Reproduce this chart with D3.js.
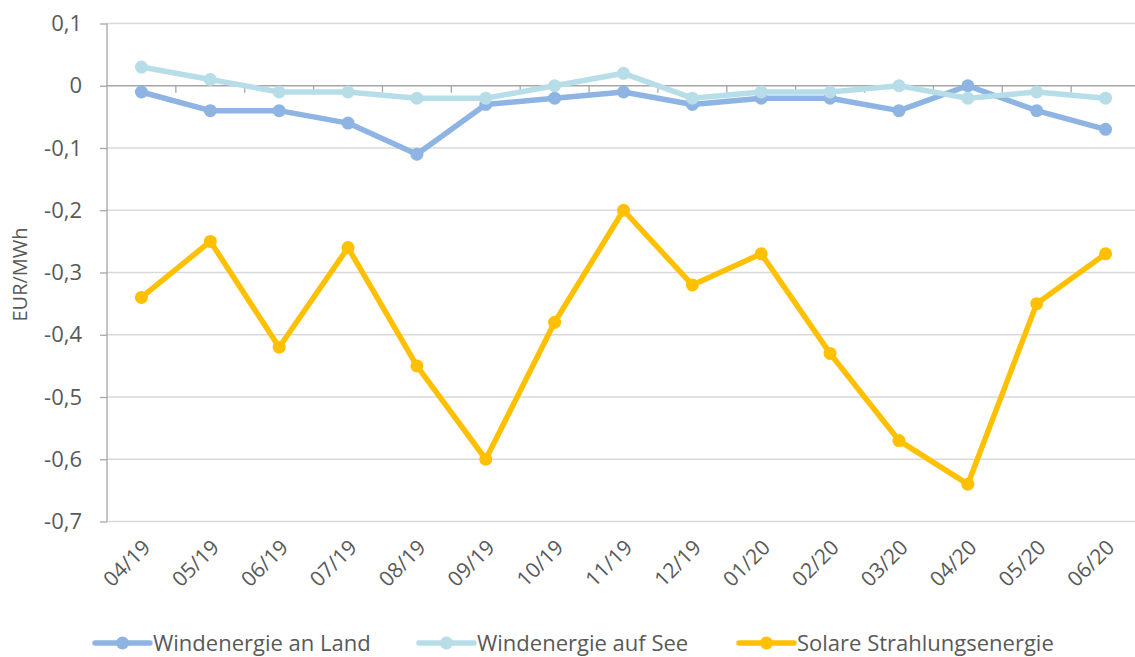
<!DOCTYPE html>
<html><head><meta charset="utf-8">
<script src="https://cdn.jsdelivr.net/npm/d3@7"></script>
<style>
body{margin:0;background:#fff;}
text{font-family:"Open Sans",sans-serif;fill:#595959;}
</style></head>
<body><svg id="c" width="1135" height="657"></svg>
<script>
const categories = ["04/19","05/19","06/19","07/19","08/19","09/19","10/19","11/19","12/19","01/20","02/20","03/20","04/20","05/20","06/20"];
const windLand = [-0.01,-0.04,-0.04,-0.06,-0.11,-0.03,-0.02,-0.01,-0.03,-0.02,-0.02,-0.04,0.00,-0.04,-0.07];
const windSee = [0.03,0.01,-0.01,-0.01,-0.02,-0.02,0.00,0.02,-0.02,-0.01,-0.01,0.00,-0.02,-0.01,-0.02];
const solar = [-0.34,-0.25,-0.42,-0.26,-0.45,-0.60,-0.38,-0.20,-0.32,-0.27,-0.43,-0.57,-0.64,-0.35,-0.27];
const yTicks = [0.1,0,-0.1,-0.2,-0.3,-0.4,-0.5,-0.6,-0.7];
const seriesNames = ["Windenergie an Land","Windenergie auf See","Solare Strahlungsenergie"];
const seriesColors = ["#8db4e2","#b7dee8","#ffc000"];

const svg = d3.select("#c");
const pL = 107, pR = 1140, pT = 23.5, pB = 521.5;
const x = d3.scaleBand().domain(categories).range([pL, pR]);
const y = d3.scaleLinear().domain([-0.7, 0.1]).range([pB, pT]);

// gridlines
svg.append("g").selectAll("line").data(yTicks.filter(v => v !== 0)).join("line")
  .attr("x1", pL).attr("x2", pR)
  .attr("y1", d => y(d)).attr("y2", d => y(d))
  .attr("stroke", "#d9d9d9").attr("stroke-width", 1.3);

// y axis
const yAxis = d3.axisLeft(y).tickValues(yTicks).tickSize(7).tickPadding(18)
  .tickFormat(d => d === 0 ? "0" : d3.format(".1f")(d).replace(".", ",").replace("−","-"));
const gy = svg.append("g").attr("transform", `translate(${pL},0)`).call(yAxis);
gy.attr("font-size", null).attr("font-family", null);
gy.select(".domain").attr("stroke", "#a6a6a6").attr("stroke-width", 1.3).attr("d", `M0,${pT}V${pB}`);
gy.selectAll(".tick line").attr("stroke", "#a6a6a6").attr("stroke-width", 1.3);
gy.selectAll(".tick text").style("font-size", "22px").attr("fill", "#595959");

// zero axis line with category ticks
svg.append("line").attr("x1", pL).attr("x2", pR).attr("y1", y(0)).attr("y2", y(0))
  .attr("stroke", "#a6a6a6").attr("stroke-width", 1.5);
svg.append("g").selectAll("line").data(categories.slice(1)).join("line")
  .attr("x1", d => x(d)).attr("x2", d => x(d))
  .attr("y1", y(0)).attr("y2", y(0) + 7)
  .attr("stroke", "#a6a6a6").attr("stroke-width", 1.3);

// x labels
svg.append("g").selectAll("text").data(categories).join("text")
  .attr("transform", d => `translate(${x(d) + x.bandwidth()/2 + 5},${pB + 22}) rotate(-45)`)
  .attr("text-anchor", "end").attr("dy", "0.35em")
  .style("font-size", "21px").text(d => d);

// y label
svg.append("text").attr("transform", `translate(27,${(pT+pB)/2 + 2}) rotate(-90)`)
  .attr("text-anchor", "middle").style("font-size", "20px").text("EUR/MWh");

// series
const data = [windLand, windSee, solar];
const line = d3.line().x((d,i) => x(categories[i]) + x.bandwidth()/2).y(d => y(d));
data.forEach((s, k) => {
  const g = svg.append("g");
  g.append("path").datum(s).attr("d", line).attr("fill", "none")
    .attr("stroke", seriesColors[k]).attr("stroke-width", 5.5).attr("stroke-linejoin", "round");
  g.selectAll("circle").data(s).join("circle")
    .attr("cx", (d,i) => x(categories[i]) + x.bandwidth()/2).attr("cy", d => y(d))
    .attr("r", 6.5).attr("fill", seriesColors[k]);
});

// legend
const legX = [95, 419, 739];
const legY = 643;
seriesNames.forEach((n, k) => {
  const g = svg.append("g").attr("transform", `translate(${legX[k]},${legY})`);
  g.append("line").attr("x1", 0).attr("x2", 55).attr("y1", 0).attr("y2", 0)
    .attr("stroke", seriesColors[k]).attr("stroke-width", 5.5).attr("stroke-linecap", "round");
  g.append("circle").attr("cx", 27.5).attr("cy", 0).attr("r", 6.5).attr("fill", seriesColors[k]);
  g.append("text").attr("x", 58).attr("y", 0).attr("dy", "0.35em").style("font-size", "22px").text(n);
});
</script></body></html>
